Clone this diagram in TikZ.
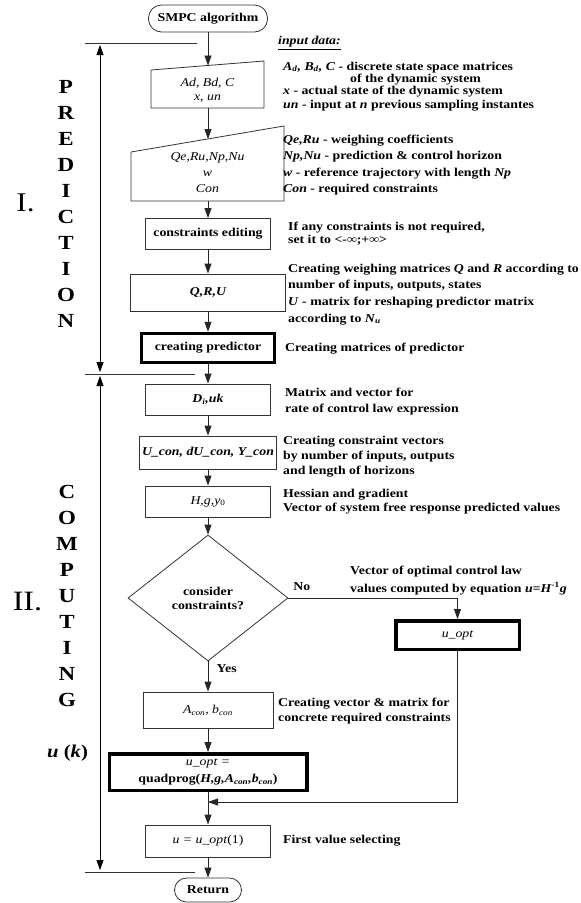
\documentclass[tikz,border=0pt]{standalone}
\usepackage{fontspec}
\setmainfont{Liberation Serif}[FakeStretch=1.15]
\usetikzlibrary{shapes.geometric,arrows.meta,positioning}

\tikzset{
	outline/.style={draw=black!80,line width=0.8pt},
	box/.style={outline,minimum width=125pt,minimum height=31pt,inner sep=0pt,align=center},
	thickbox/.style={box,draw=black,line width=3.5pt},
	term/.style={box,rounded corners=12pt},
	decision/.style={outline,diamond,aspect=1.27,minimum width=160pt,minimum height=126pt,inner sep=0pt,align=center},
	note/.style={anchor=north west,align=left,inner sep=0pt,font=\bfseries\fontsize{12}{#1}\selectfont},
	note/.default=15,
	flow/.style={-{Triangle[length=10pt,width=7pt]},line width=0.8pt,draw=black!85},
	span/.style={{Triangle[length=10pt,width=7pt]}-{Triangle[length=10pt,width=7pt]},line width=0.8pt,shorten <=2pt,shorten >=2pt},
	letter/.style={font=\bfseries\fontsize{20}{20}\selectfont,inner sep=0pt}
}

\begin{document}
\begin{tikzpicture}[x=1pt,y=-1pt,font=\bfseries\fontsize{12}{14}\selectfont]
	\useasboundingbox (0,0) rectangle (581,903);

	\node[term,minimum width=119pt,minimum height=27pt,rounded corners=13pt] (start) at (208,18.5) {SMPC algorithm};
	\draw[outline] (151,108) -- (264,108) -- (264,61) -- (151,70) -- cycle;
	\node[align=center,font=\mdseries\itshape\fontsize{12}{14}\selectfont] (in1) at (207.5,90) {Ad, Bd, C\\x, un};
	\coordinate (in1t) at (208,65.5);
	\coordinate (in1b) at (208,108);
	\draw[outline] (131,201) -- (284,201) -- (284,126) -- (131,152) -- cycle;
	\node[align=center,font=\mdseries\itshape\fontsize{12}{16}\selectfont] (in2) at (207.5,173) {Qe,Ru,Np,Nu\\w\\Con};
	\coordinate (in2t) at (208,139);
	\coordinate (in2b) at (208,201);
	\node[box] (edit) at (208,234) {constraints editing};
	\node[box,minimum width=155pt,minimum height=37pt] (qru) at (208,292.5) {\itshape Q,R,U};
	\node[thickbox,minimum width=133pt,minimum height=29pt] (pred) at (208,348) {creating predictor};
	\node[box] (dk) at (208,399.5) {\textit{D}\textsubscript{\textit{i}}\textit{,uk}};
	\node[box,minimum width=137pt,minimum height=33pt] (con) at (208,452.5) {\itshape U\_con, dU\_con, Y\_con};
	\node[box] (hg) at (208,501.5) {\mdseries\textit{H,g,y}\textsubscript{0}};
	\node[decision] (dec) at (208,598) {consider\\constraints?};
	\node[thickbox,minimum width=123.5pt,minimum height=28.5pt] (uopt) at (457.5,635) {\mdseries\itshape u\_opt};
	\node[box,minimum width=130pt,minimum height=36pt] (acon) at (208,710) {\mdseries\itshape A\textsubscript{con}, b\textsubscript{con}};
	\node[thickbox,minimum width=197.5pt,minimum height=36.5pt] (quad) at (208,772) {{\mdseries\itshape u\_opt =}\\[3pt]quadprog(\textit{H,g,A}\textsubscript{\textit{con}}\textit{,b}\textsubscript{\textit{con}})};
	\node[box,minimum height=32pt] (u1) at (208,841) {\mdseries\textit{u = u\_opt}(1)};
	\node[term,minimum width=67pt,minimum height=24pt] (ret) at (208,890) {Return};
	\coordinate (join) at (208,802);

	\draw[flow] (start) -- (in1t);
	\draw[flow] (in1b) -- (in2t);
	\draw[flow] (in2b) -- (edit);
	\draw[flow] (edit) -- (qru);
	\draw[flow] (qru) -- (pred);
	\draw[flow] (pred) -- (dk);
	\draw[flow] (dk) -- (con);
	\draw[flow] (con) -- (hg);
	\draw[flow] (hg) -- (dec);
	\draw[flow] (dec.east) -| node[pos=0.04,above=4pt] (no) {No} (uopt.north);
	\draw[flow] (dec.south) -- node[pos=0.25,right=5pt] (yes) {Yes} (acon);
	\draw[flow] (acon) -- (quad);
	\draw[flow] (quad) -- (u1);
	\draw[flow] (uopt.south) |- (join);
	\draw[flow] (u1) -- (ret);

	\coordinate (a1) at (100,43);
	\coordinate (a2) at (100,374);
	\coordinate (a3) at (100,872);
	\draw[outline] (85,43) -- (197,43) (85,374) -- (195,374) (85,872) -- (195,872);
	\draw[span] (a1) -- (a2);
	\draw[span] (a2) -- (a3);
	\foreach \c [count=\i] in {P,R,E,D,I,C,T,I,O,N}
		\node[letter] (pr\i) at (66,61+26*\i) {\c};
	\foreach \c [count=\i] in {C,O,M,P,U,T,I,N,G}
		\node[letter] (co\i) at (67,466+26*\i) {\c};
	\node[font=\fontsize{27}{27}\selectfont,inner sep=0pt] (ph1) at (25.5,203) {I.};
	\node[font=\fontsize{28}{28}\selectfont,inner sep=0pt] (ph2) at (27.5,602) {II.};
	\node[font=\bfseries\fontsize{18}{18}\selectfont,inner sep=0pt] (uk) at (67.5,753) {\textit{u} (\textit{k})};

	\node[anchor=west,inner sep=0pt] (n0) at (278,43) {\underline{\textit{input data:}}};
	\node[note=14] (n1) at (283,61.5) {\textit{A}\textsubscript{\textit{d}}\textit{, B}\textsubscript{\textit{d}}\textit{, C} - discrete state space matrices\\[-2pt]\hspace*{67pt}of the dynamic system\\[-2pt]\textit{x} - actual state of the dynamic system\\\textit{un} - input at \textit{n} previous sampling instantes};
	\node[note=16.5] (n2) at (283,134.5) {\textit{Qe,Ru} - weighing coefficients\\\textit{Np,Nu} - prediction \& control horizon\\\textit{w} - reference trajectory with length \textit{Np}\\\textit{Con} - required constraints};
	\node[note=13] (n3) at (288,221.5) {If any constraints is not required,\\set it to <-∞;+∞>};
	\node[note=16.7] (n4) at (288,263.5) {Creating weighing matrices \textit{Q} and \textit{R} according to\\number of inputs, outputs, states\\\textit{U} - matrix for reshaping predictor matrix\\according to \textit{N}\textsubscript{\textit{u}}};
	\node[note] (n5) at (285,342.5) {Creating matrices of predictor};
	\node[note=16] (n6) at (285,387.5) {Matrix and vector for\\rate of control law expression};
	\node[note] (n7) at (283,435.5) {Creating constraint vectors\\by number of inputs, outputs\\and length of horizons};
	\node[note=14] (n8) at (283,488.5) {Hessian and gradient\\Vector of system free response predicted values};
	\node[note=18] (n9) at (350,565.5) {Vector of optimal control law\\values computed by equation \textit{u=H}\textsuperscript{-1}\textit{g}};
	\node[note] (n10) at (278,697.5) {Creating vector \& matrix for\\concrete required constraints};
	\node[note] (n11) at (283,834.5) {First value selecting};
\end{tikzpicture}
\end{document}
